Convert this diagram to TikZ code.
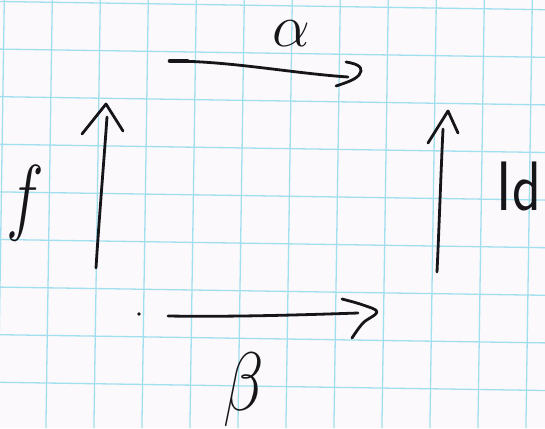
\RequirePackage{fix-cm}
\documentclass[tikz,border=0pt]{standalone}
\usepackage{graphicx}
\definecolor{paper}{RGB}{251,249,251}
\definecolor{gridc}{RGB}{162,223,238}
\definecolor{ink}{RGB}{22,22,26}
\begin{document}
\begin{tikzpicture}[x=1pt,y=-1pt,
  pen/.style={draw=ink,line width=2.8pt,line cap=round,line join=round},
  gridline/.style={draw=gridc,line width=1.3pt},
  lab/.style={inner sep=0pt,text=ink}]
\fill[paper] (0,0) rectangle (545,428);
\useasboundingbox (0,0) rectangle (545,428);
\foreach \k in {0,...,11} \draw[gridline] ({4.3+48*\k},0) -- ({4.3+48*\k-6.4},428);
\foreach \j in {0,...,9} \draw[gridline] (0,{1.5+47.6*\j}) -- (545,{1.5+47.6*\j+8.2});
% top arrow (alpha)
\coordinate (a0) at (170,61);
\coordinate (a1) at (348,77);
\draw[pen] (a0) .. controls (230,61) and (290,73) .. (a1);
\draw[pen,line width=4.6pt] (a0) -- (187,61);
\draw[pen] plot[smooth,tension=0.7] coordinates {(346,62) (357,65) (361,71) (354,79) (336,86)};
% left arrow (f)
\coordinate (f0) at (96,268);
\coordinate (f1) at (107,117);
\draw[pen] (f0) .. controls (99,220) and (104,160) .. (f1);
\draw[pen] (82,134) -- (106,104) -- (123,131);
% right arrow (Id)
\coordinate (r0) at (437,272);
\coordinate (r1) at (443,129);
\draw[pen] (r0) .. controls (439,230) and (441,170) .. (r1);
\draw[pen] (428,143) -- (448,111) -- (458,133);
% bottom arrow (beta)
\fill[ink] (139,314) circle (1.8);
\coordinate (b0) at (168,316);
\coordinate (b1) at (358,313);
\draw[pen] (b0) .. controls (230,317) and (300,315) .. (b1);
\draw[pen] plot[smooth,tension=0.6] coordinates {(342,299) (363,305) (377,312) (363,323) (352,338)};
% labels
\node[lab] (alpha) at (291,34) {\fontsize{60}{60}\selectfont$\alpha$};
\node[lab] (f) at (25,203) {\scalebox{0.75}[1]{\fontsize{85}{85}\selectfont$f$}};
\node[lab] (beta) at (244,390) {\scalebox{0.8}[1]{\fontsize{83}{83}\selectfont$\beta$}};
\node[lab] (id) at (519,186) {\scalebox{0.85}[1]{\fontsize{70}{70}\selectfont\sffamily Id}};
\end{tikzpicture}
\end{document}
